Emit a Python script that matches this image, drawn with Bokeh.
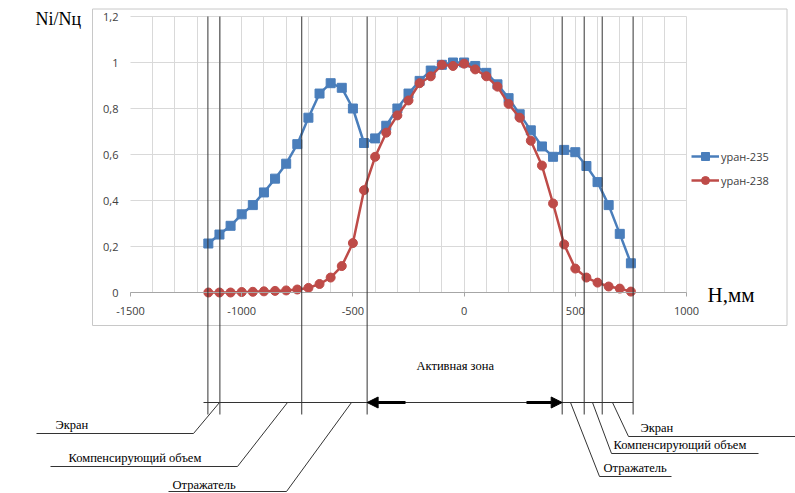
from bokeh.plotting import figure
from bokeh.models import (Arrow, NormalHead, Label, FixedTicker, SingleIntervalTicker,
                          CustomJSTickFormatter, Legend, LegendItem, Range1d, Grid)
from bokeh.embed import file_html
from bokeh.resources import INLINE

# ---------------- data ----------------
h_mm = [-1150, -1100, -1050, -1000, -950, -900, -850, -800, -750, -700, -650, -600,
        -550, -500, -450, -400, -350, -300, -250, -200, -150, -100, -50, 0, 50, 100,
        150, 200, 250, 300, 350, 400, 450, 500, 550, 600, 650, 700, 750]
u235 = [0.213, 0.252, 0.29, 0.34, 0.38, 0.435, 0.495, 0.56, 0.645, 0.76, 0.865, 0.91,
        0.89, 0.80, 0.65, 0.67, 0.725, 0.80, 0.865, 0.92, 0.965, 0.99, 1.0, 1.0, 0.985,
        0.955, 0.905, 0.845, 0.775, 0.705, 0.635, 0.59, 0.62, 0.61, 0.55, 0.48, 0.38,
        0.255, 0.127]
u238 = [0.0, 0.0, 0.0, 0.002, 0.003, 0.005, 0.007, 0.009, 0.013, 0.02, 0.037, 0.065,
        0.115, 0.215, 0.445, 0.59, 0.695, 0.77, 0.835, 0.91, 0.94, 0.99, 0.985, 0.995,
        0.97, 0.94, 0.895, 0.82, 0.76, 0.66, 0.552, 0.387, 0.209, 0.104, 0.065, 0.043,
        0.026, 0.017, 0.004]
series_names = ["уран-235", "уран-238"]
x_ticks = [-1500, -1000, -500, 0, 500, 1000]
y_ticks = [0, 0.2, 0.4, 0.6, 0.8, 1.0, 1.2]
# zone boundaries, mm
zone_left = [-1152, -1098, -730, -436]
zone_right = [441, 540, 621, 760]
y_label = "Ni/Nц"
x_label = "Н,мм"
core_label = "Активная зона"
left_names = ["Экран", "Компенсирующий объем", "Отражатель"]
right_names = ["Экран", "Компенсирующий объем", "Отражатель"]

BLUE = "#4A7EBB"
RED = "#BE4B48"
INK = "#333333"
SERIF = "Liberation Serif"

W, H = 795, 493
# chart plot area in canvas pixels
FL, FR, FT, FB = 130, 686, 16, 292
X0, X1, Y0, Y1 = -1500, 1000, 0, 1.2


def dx(px):
    return X0 + (px - FL) / (FR - FL) * (X1 - X0)


def dy(py):
    return Y0 + (FB - py) / (FB - FT) * (Y1 - Y0)


p = figure(width=W, height=H, x_range=Range1d(dx(0), dx(W)), y_range=Range1d(dy(H), dy(0)),
           output_backend="svg", toolbar_location=None,
           min_border=0, min_border_left=0, min_border_right=0,
           min_border_top=0, min_border_bottom=0)
p.outline_line_color = None
p.background_fill_color = "white"
p.border_fill_color = "white"

# grids restricted to the plot area
p.xgrid.ticker = SingleIntervalTicker(interval=100)
p.ygrid.ticker = FixedTicker(ticks=y_ticks)
for g in (p.xgrid, p.ygrid):
    g.grid_line_color = "#d9d9d9"
p.xgrid.bounds = (X0 + 100, X1)
p.ygrid.bounds = (Y0, Y1)
if "cross_bounds" in Grid.properties():
    p.xgrid.cross_bounds = (Y0, Y1)
    p.ygrid.cross_bounds = (X0, X1)

# axes drawn inside the frame at fixed locations
xa = p.xaxis[0]
ya = p.yaxis[0]
xa.fixed_location = Y0
ya.fixed_location = X0
xa.bounds = (X0, X1)
ya.bounds = (Y0, Y1)
xa.ticker = FixedTicker(ticks=x_ticks)
xa.formatter = CustomJSTickFormatter(code="return tick.toFixed(0);")
ya.ticker = FixedTicker(ticks=y_ticks)
ya.formatter = CustomJSTickFormatter(
    code="return (Math.round(tick*10)/10).toString().replace('.', ',');")
for ax in (xa, ya):
    ax.major_label_text_font = "Open Sans"
    ax.major_label_text_font_size = "11px"
    ax.major_label_text_color = "#404040"
    ax.minor_tick_line_color = None
xa.axis_line_color = "#a6a6a6"
xa.major_tick_line_color = "#a6a6a6"
xa.major_tick_out = 4
xa.major_tick_in = 0
xa.major_label_standoff = 10
ya.axis_line_color = None
ya.major_tick_line_color = None
ya.major_label_standoff = 6

# series
l1 = p.line(h_mm, u235, line_color=BLUE, line_width=2.5)
m1 = p.scatter(h_mm, u235, marker="square", size=9, fill_color=BLUE, line_color=BLUE)
l2 = p.line(h_mm, u238, line_color=RED, line_width=2.5)
m2 = p.scatter(h_mm, u238, marker="circle", size=9, fill_color=RED, line_color=RED)

legend = Legend(items=[LegendItem(label=series_names[0], renderers=[l1, m1]),
                       LegendItem(label=series_names[1], renderers=[l2, m2])],
                location=(691, H - 190), padding=0, margin=0, spacing=4,
                glyph_width=28, glyph_height=20, label_height=20,
                label_text_font="Open Sans", label_text_font_size="11px",
                label_text_color="#404040", label_standoff=2,
                border_line_color=None, background_fill_alpha=0)
p.add_layout(legend, "center")


def seg(x0, y0, x1, y1, color=INK, width=1):
    p.add_layout(Arrow(x_start=x0, y_start=y0, x_end=x1, y_end=y1, end=None,
                       line_color=color, line_width=width))


def lab(px, py, text, size="12.5px", align="left", font=SERIF):
    p.add_layout(Label(x=dx(px), y=dy(py), text=text, text_font=font,
                       text_font_size=size, text_align=align,
                       text_baseline="middle", text_color="black"))


# chart area border
BC = "#c8c8c8"
seg(dx(92), dy(8.5), dx(786.5), dy(8.5), BC)
seg(dx(786.5), dy(8.5), dx(786.5), dy(325), BC)
seg(dx(786.5), dy(325), dx(92), dy(325), BC)
seg(dx(92), dy(325), dx(92), dy(8.5), BC)

# zone boundary verticals
for xb in zone_left + zone_right:
    seg(xb, Y1, xb, dy(414))
# base line
seg(dx(203), dy(402), zone_right[-1], dy(402))

# thick arrows
p.add_layout(Arrow(x_start=dx(405), y_start=dy(402), x_end=zone_left[-1], y_end=dy(402),
                   line_color="black", line_width=3,
                   end=NormalHead(size=11, fill_color="black", line_color="black")))
p.add_layout(Arrow(x_start=dx(526), y_start=dy(402), x_end=zone_right[0], y_end=dy(402),
                   line_color="black", line_width=3,
                   end=NormalHead(size=11, fill_color="black", line_color="black")))

# left leaders
seg(dx(219), dy(402), dx(193), dy(433)); seg(dx(193), dy(433), dx(36), dy(433))
seg(dx(287), dy(402), dx(237), dy(466)); seg(dx(237), dy(466), dx(50), dy(466))
seg(dx(351), dy(402), dx(286), dy(491)); seg(dx(286), dy(491), dx(168), dy(491))
# right leaders
seg(dx(570), dy(402), dx(599), dy(476)); seg(dx(599), dy(476), dx(671), dy(476))
seg(dx(592), dy(402), dx(611), dy(453)); seg(dx(611), dy(453), dx(758), dy(453))
seg(dx(612), dy(402), dx(628), dy(436)); seg(dx(628), dy(436), dx(795), dy(436))

# texts
lab(35, 18, y_label, size="18px")
lab(707, 294, x_label, size="21px")
lab(416, 365, core_label)
lab(55, 424, left_names[0])
lab(68, 457, left_names[1])
lab(172, 484, left_names[2])
lab(640, 427, right_names[0])
lab(613, 444, right_names[1])
lab(603, 467, right_names[2])

open("out.html", "w").write(file_html(p, INLINE))
